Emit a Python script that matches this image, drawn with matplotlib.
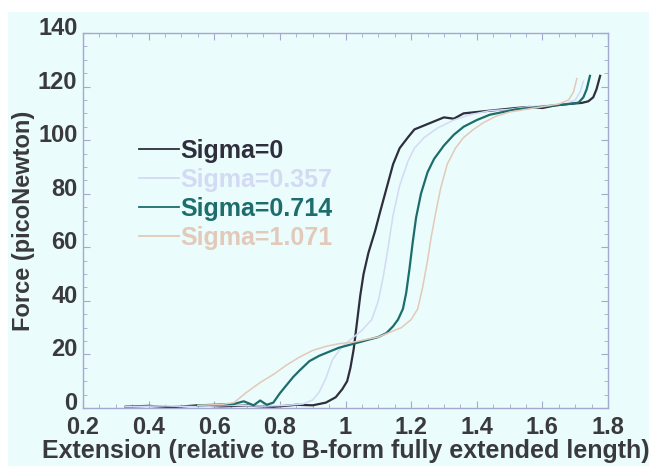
import matplotlib
matplotlib.use("Agg")
import matplotlib.pyplot as plt
import matplotlib.transforms as mtransforms
from matplotlib.patches import Rectangle
from matplotlib.ticker import MultipleLocator

# ---- data ----
labels = ["Sigma=0", "Sigma=0.357", "Sigma=0.714", "Sigma=1.071"]

x_s0 = [0.33, 0.40, 0.47, 0.55, 0.62, 0.70, 0.78, 0.85, 0.90, 0.94, 0.97, 0.99, 1.005, 1.015,
        1.025, 1.035, 1.045, 1.055, 1.07, 1.09, 1.105, 1.125, 1.145, 1.165, 1.19, 1.21, 1.24,
        1.27, 1.30, 1.33, 1.36, 1.40, 1.44, 1.48, 1.52, 1.56, 1.60, 1.64, 1.68, 1.72, 1.74,
        1.755, 1.765, 1.776]
y_s0 = [0.5, 0.8, 0.3, 1.0, 0.6, 0.9, 0.4, 1.2, 1.0, 2.0, 4.0, 7.0, 10, 15,
        22, 32, 42, 50, 58, 66, 73, 82, 91, 97, 101, 104, 105.5,
        107, 108.5, 108, 110, 110.5, 111, 111.5, 112, 112.4, 112, 113, 113.5, 113.9, 114.5,
        116, 119, 124]

x_s1 = [0.33, 0.45, 0.55, 0.65, 0.75, 0.82, 0.87, 0.90, 0.92, 0.94, 0.96, 0.99, 1.02, 1.05,
        1.08, 1.10, 1.115, 1.13, 1.145, 1.165, 1.19, 1.21, 1.24, 1.28, 1.33, 1.38, 1.44,
        1.50, 1.56, 1.62, 1.67, 1.70, 1.715, 1.725]
y_s1 = [0.5, 0.8, 0.5, 1.0, 0.7, 1.0, 1.5, 3, 6, 11, 18, 23, 26, 29,
        33, 40, 49, 60, 72, 83, 92, 97, 101, 104.5, 107.5, 109.5, 111,
        111.5, 112.5, 113, 113.5, 115, 118, 122]

x_s2 = [0.55, 0.60, 0.66, 0.69, 0.72, 0.74, 0.76, 0.78, 0.80, 0.82, 0.84, 0.86, 0.89, 0.92,
        0.95, 0.98, 1.01, 1.04, 1.07, 1.10, 1.125, 1.145, 1.16, 1.175, 1.185, 1.195, 1.205,
        1.215, 1.23, 1.25, 1.27, 1.30, 1.33, 1.36, 1.40, 1.44, 1.48, 1.52, 1.56, 1.60, 1.64,
        1.68, 1.71, 1.725, 1.735, 1.745]
y_s2 = [1.0, 1.2, 1.5, 2.5, 1.0, 2.8, 1.2, 2.0, 5.5, 8.5, 11.5, 14, 17.5, 19.5,
        21, 22.5, 23.5, 24.5, 25.5, 26.5, 28, 30.5, 33, 37, 43, 52, 62,
        71, 80, 88, 93, 98, 102, 105, 107.5, 109.5, 110.5, 111.5, 112, 112.5, 113,
        113.5, 114, 116, 119, 124]

x_s3 = [0.55, 0.62, 0.66, 0.70, 0.74, 0.78, 0.82, 0.86, 0.90, 0.94, 0.98, 1.02, 1.06, 1.10,
        1.14, 1.17, 1.20, 1.22, 1.235, 1.25, 1.26, 1.275, 1.29, 1.31, 1.335, 1.36, 1.39,
        1.42, 1.46, 1.50, 1.55, 1.60, 1.65, 1.68, 1.695, 1.705]
y_s3 = [1.0, 1.3, 2.0, 6, 9.5, 12.5, 16, 19, 21.5, 23, 24, 24.5, 25.5, 26.5,
        28.5, 30, 33, 37, 45, 55, 63, 73, 82, 91, 97, 101, 104,
        106.5, 109, 110.5, 111.5, 112.5, 113.5, 115, 118, 123]

xs = [x_s0, x_s1, x_s2, x_s3]
ys = [y_s0, y_s1, y_s2, y_s3]

colors = ["#2e2e3c", "#d3daf4", "#1d6d6c", "#e3c9b9"]
widths = [1.6, 1.1, 1.6, 1.1]
bg = "#eafcfc"
frame = "#a3a9cf"
txt = "#3a3a3e"

plt.rcParams['font.family'] = ['Liberation Sans', 'DejaVu Sans']
plt.rcParams['font.weight'] = 'bold'

fig = plt.figure(figsize=(6.49, 4.66), dpi=100)
fig.patch.set_facecolor("white")
# cyan panel behind everything, white strip at top and left
panel = Rectangle((8 / 649, 0), 1, 1 - 12 / 466, transform=fig.transFigure,
                  facecolor=bg, edgecolor="none", zorder=-10)
fig.add_artist(panel)

ax = fig.add_axes([83 / 649, 1 - 408 / 466, 525 / 649, 375 / 466])
ax.set_facecolor(bg)

for x, y, c, w, lab in zip(xs, ys, colors, widths, labels):
    ax.plot(x, y, color=c, lw=w, label=lab)

ax.set_xlim(0.2, 1.8)
ax.set_ylim(0, 140)
ax.xaxis.set_major_locator(MultipleLocator(0.2))
ax.xaxis.set_minor_locator(MultipleLocator(0.05))
ax.yaxis.set_major_locator(MultipleLocator(20))
ax.yaxis.set_minor_locator(MultipleLocator(5))
ax.set_xticks([0.2, 0.4, 0.6, 0.8, 1.0, 1.2, 1.4, 1.6, 1.8])
ax.set_xticklabels(["0.2", "0.4", "0.6", "0.8", "1", "1.2", "1.4", "1.6", "1.8"])

for s in ax.spines.values():
    s.set_color(frame)
    s.set_linewidth(1.0)
ax.tick_params(which="both", direction="in", top=True, right=True, color=frame,
               labelsize=17, labelcolor=txt)
ax.tick_params(which="major", length=5)
ax.tick_params(which="minor", length=3)
ax.tick_params(axis="x", pad=5.5)
ax.tick_params(axis="y", pad=4)

# y tick labels sit a little above their ticks in the original
shift = mtransforms.ScaledTranslation(0, 7 / 100, fig.dpi_scale_trans)
for lbl in ax.get_yticklabels():
    lbl.set_transform(lbl.get_transform() + shift)

ax.set_xlabel("Extension (relative to B-form fully extended length)", fontsize=18,
              color=txt, fontweight="bold", labelpad=0)
ax.set_ylabel("Force (picoNewton)", fontsize=17, color=txt, fontweight="bold", labelpad=2)

leg = ax.legend(loc="upper left", bbox_to_anchor=(0.087, 0.745), frameon=False,
                fontsize=18, handlelength=1.6, handletextpad=0.05, labelspacing=0.2,
                borderaxespad=0)
for t, c in zip(leg.get_texts(), colors):
    t.set_color(c)
    t.set_fontweight("bold")
for h in leg.get_lines():
    h.set_linewidth(1.3)

fig.savefig("out.png", dpi=100, facecolor=fig.get_facecolor())
